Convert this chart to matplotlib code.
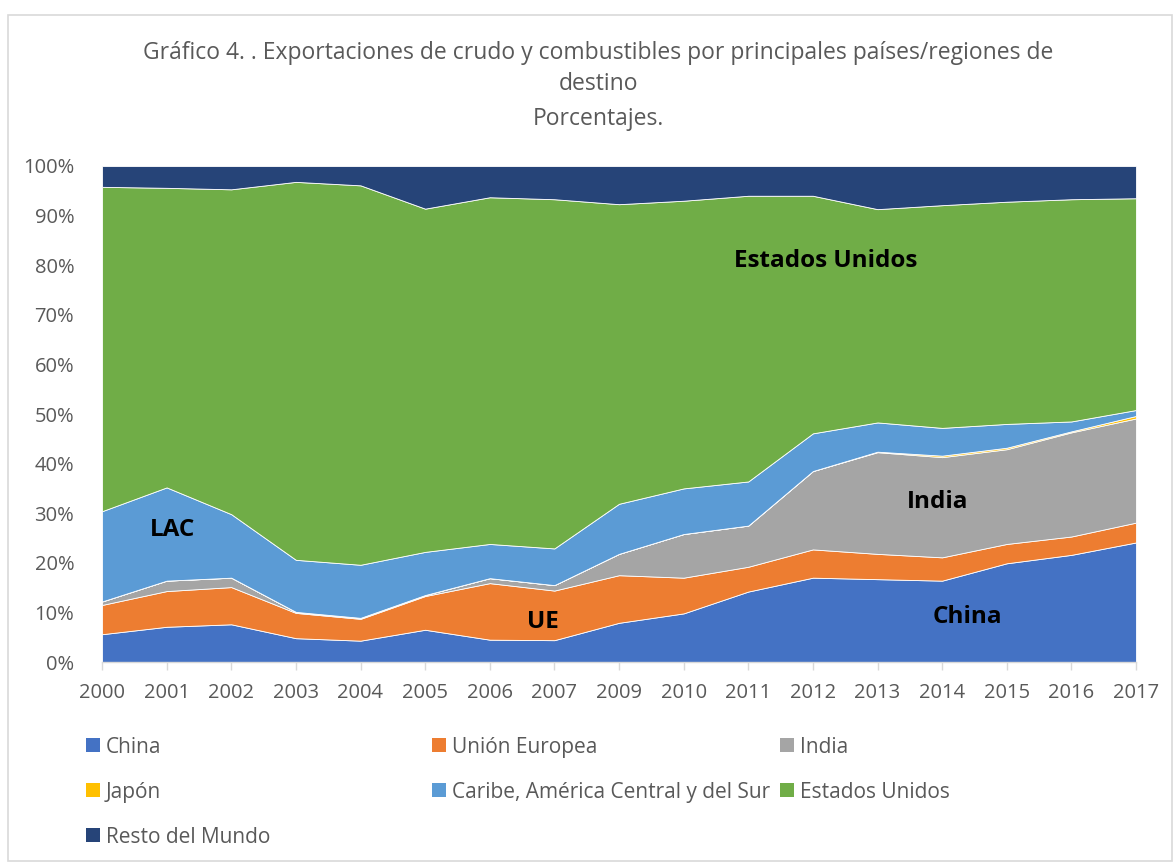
import matplotlib
matplotlib.use("Agg")
import matplotlib.pyplot as plt
from matplotlib.patches import Patch, Rectangle
import numpy as np

years = ["2000", "2001", "2002", "2003", "2004", "2005", "2006", "2007", "2009",
         "2010", "2011", "2012", "2013", "2014", "2015", "2016", "2017"]

china = [5.6, 7.1, 7.6, 4.8, 4.3, 6.5, 4.5, 4.4, 7.9, 9.8, 14.2, 17.0, 16.7, 16.4, 19.9, 21.6, 24.1]
ue = [5.9, 7.2, 7.5, 5.1, 4.4, 6.8, 11.4, 10.0, 9.6, 7.2, 5.0, 5.7, 5.1, 4.7, 3.9, 3.7, 4.0]
india = [0.7, 2.1, 1.9, 0.2, 0.2, 0.2, 1.0, 1.1, 4.3, 8.8, 8.3, 15.8, 20.5, 20.2, 19.1, 21.0, 21.0]
japon = [0, 0, 0, 0, 0, 0, 0, 0, 0, 0, 0, 0, 0.1, 0.3, 0.3, 0.2, 0.5]
lac = [18.2, 18.8, 12.8, 10.5, 10.7, 8.7, 6.9, 7.4, 10.1, 9.2, 8.9, 7.6, 5.9, 5.6, 4.8, 2.0, 1.2]
eeuu = [65.4, 60.4, 65.5, 76.2, 76.5, 69.2, 69.9, 70.4, 60.4, 58.0, 57.6, 47.9, 43.0, 44.9, 44.8, 44.8, 42.7]
resto = [4.2, 4.4, 4.7, 3.2, 3.9, 8.6, 6.3, 6.7, 7.7, 7.0, 6.0, 6.0, 8.7, 7.9, 7.2, 6.7, 6.5]

labels = ["China", "Unión Europea", "India", "Japón",
          "Caribe, América Central y del Sur", "Estados Unidos", "Resto del Mundo"]
colors = ["#4472C4", "#ED7D31", "#A5A5A5", "#FFC000", "#5B9BD5", "#70AD47", "#264478"]

FONT = "Open Sans"
GREY = "#595959"

W, H = 1176, 863
fig = plt.figure(figsize=(W / 100, H / 100), dpi=100)
ax = fig.add_axes([102 / W, 1 - 662 / H, (1136 - 102) / W, (662 - 166) / H])

series = np.array([china, ue, india, japon, lac, eeuu, resto], dtype=float)
series = series / series.sum(axis=0) * 100
x = np.arange(len(years))
ax.stackplot(x, series, colors=colors, labels=labels, linewidth=0.6,
             edgecolor="white")
ax.set_xlim(0, len(years) - 1)
ax.set_ylim(0, 100)

ax.set_xticks(x)
ax.set_xticklabels(years, fontsize=14.5, color=GREY, family=FONT)
ax.set_yticks(np.arange(0, 101, 10))
ax.set_yticklabels([f"{v}%" for v in range(0, 101, 10)], fontsize=14.5, color=GREY, family=FONT)
ax.tick_params(axis="y", length=0, pad=20)
ax.tick_params(axis="x", length=6, color="#D9D9D9", width=1, pad=9)
for s in ["left", "right", "top"]:
    ax.spines[s].set_visible(False)
ax.spines["bottom"].set_color("#D9D9D9")
ax.spines["bottom"].set_linewidth(1)

# Title
tkw = dict(ha="center", va="center", fontsize=16.5, color=GREY, family=FONT)
fig.text(598 / W, 1 - 53 / H, "Gráfico 4. . Exportaciones de crudo y combustibles por principales países/regiones de", **tkw)
fig.text(598 / W, 1 - 84 / H, "destino", **tkw)
fig.text(598 / W, 1 - 119 / H, "Porcentajes.", **tkw)

# Annotations
ann_kw = dict(ha="center", va="center", fontsize=17.5, fontweight="bold", color="black", family=FONT)
fig.text(826 / W, 1 - 261 / H, "Estados Unidos", **ann_kw)
fig.text(173 / W, 1 - 530 / H, "LAC", **ann_kw)
fig.text(543 / W, 1 - 622 / H, "UE", **ann_kw)
fig.text(938 / W, 1 - 502 / H, "India", **ann_kw)
fig.text(967 / W, 1 - 617 / H, "China", **ann_kw)

# Legend: 3 columns x 3 rows, placed entry by entry
handles = [Patch(facecolor=c, edgecolor="none", label=l) for c, l in zip(colors, labels)]
col_x = [86, 432, 780]
row_y = [747, 792, 837]
for i, (h, l) in enumerate(zip(handles, labels)):
    r, c = divmod(i, 3)
    leg = fig.legend([h], [l], loc="center left",
                     bbox_to_anchor=(col_x[c] / W, 1 - row_y[r] / H),
                     frameon=False, prop={"family": FONT, "size": 15},
                     handlelength=0.65, handleheight=0.65, handletextpad=0.3,
                     borderaxespad=0, borderpad=0)
    for t in leg.get_texts():
        t.set_color(GREY)

# Chart border
fig.patches.append(Rectangle((8 / W, 0.002), (W - 12) / W, 1 - 15 / H - 0.002,
                             transform=fig.transFigure, fill=False,
                             edgecolor="#D9D9D9", linewidth=1.2))

fig.savefig("out.png", dpi=100, facecolor="white")
